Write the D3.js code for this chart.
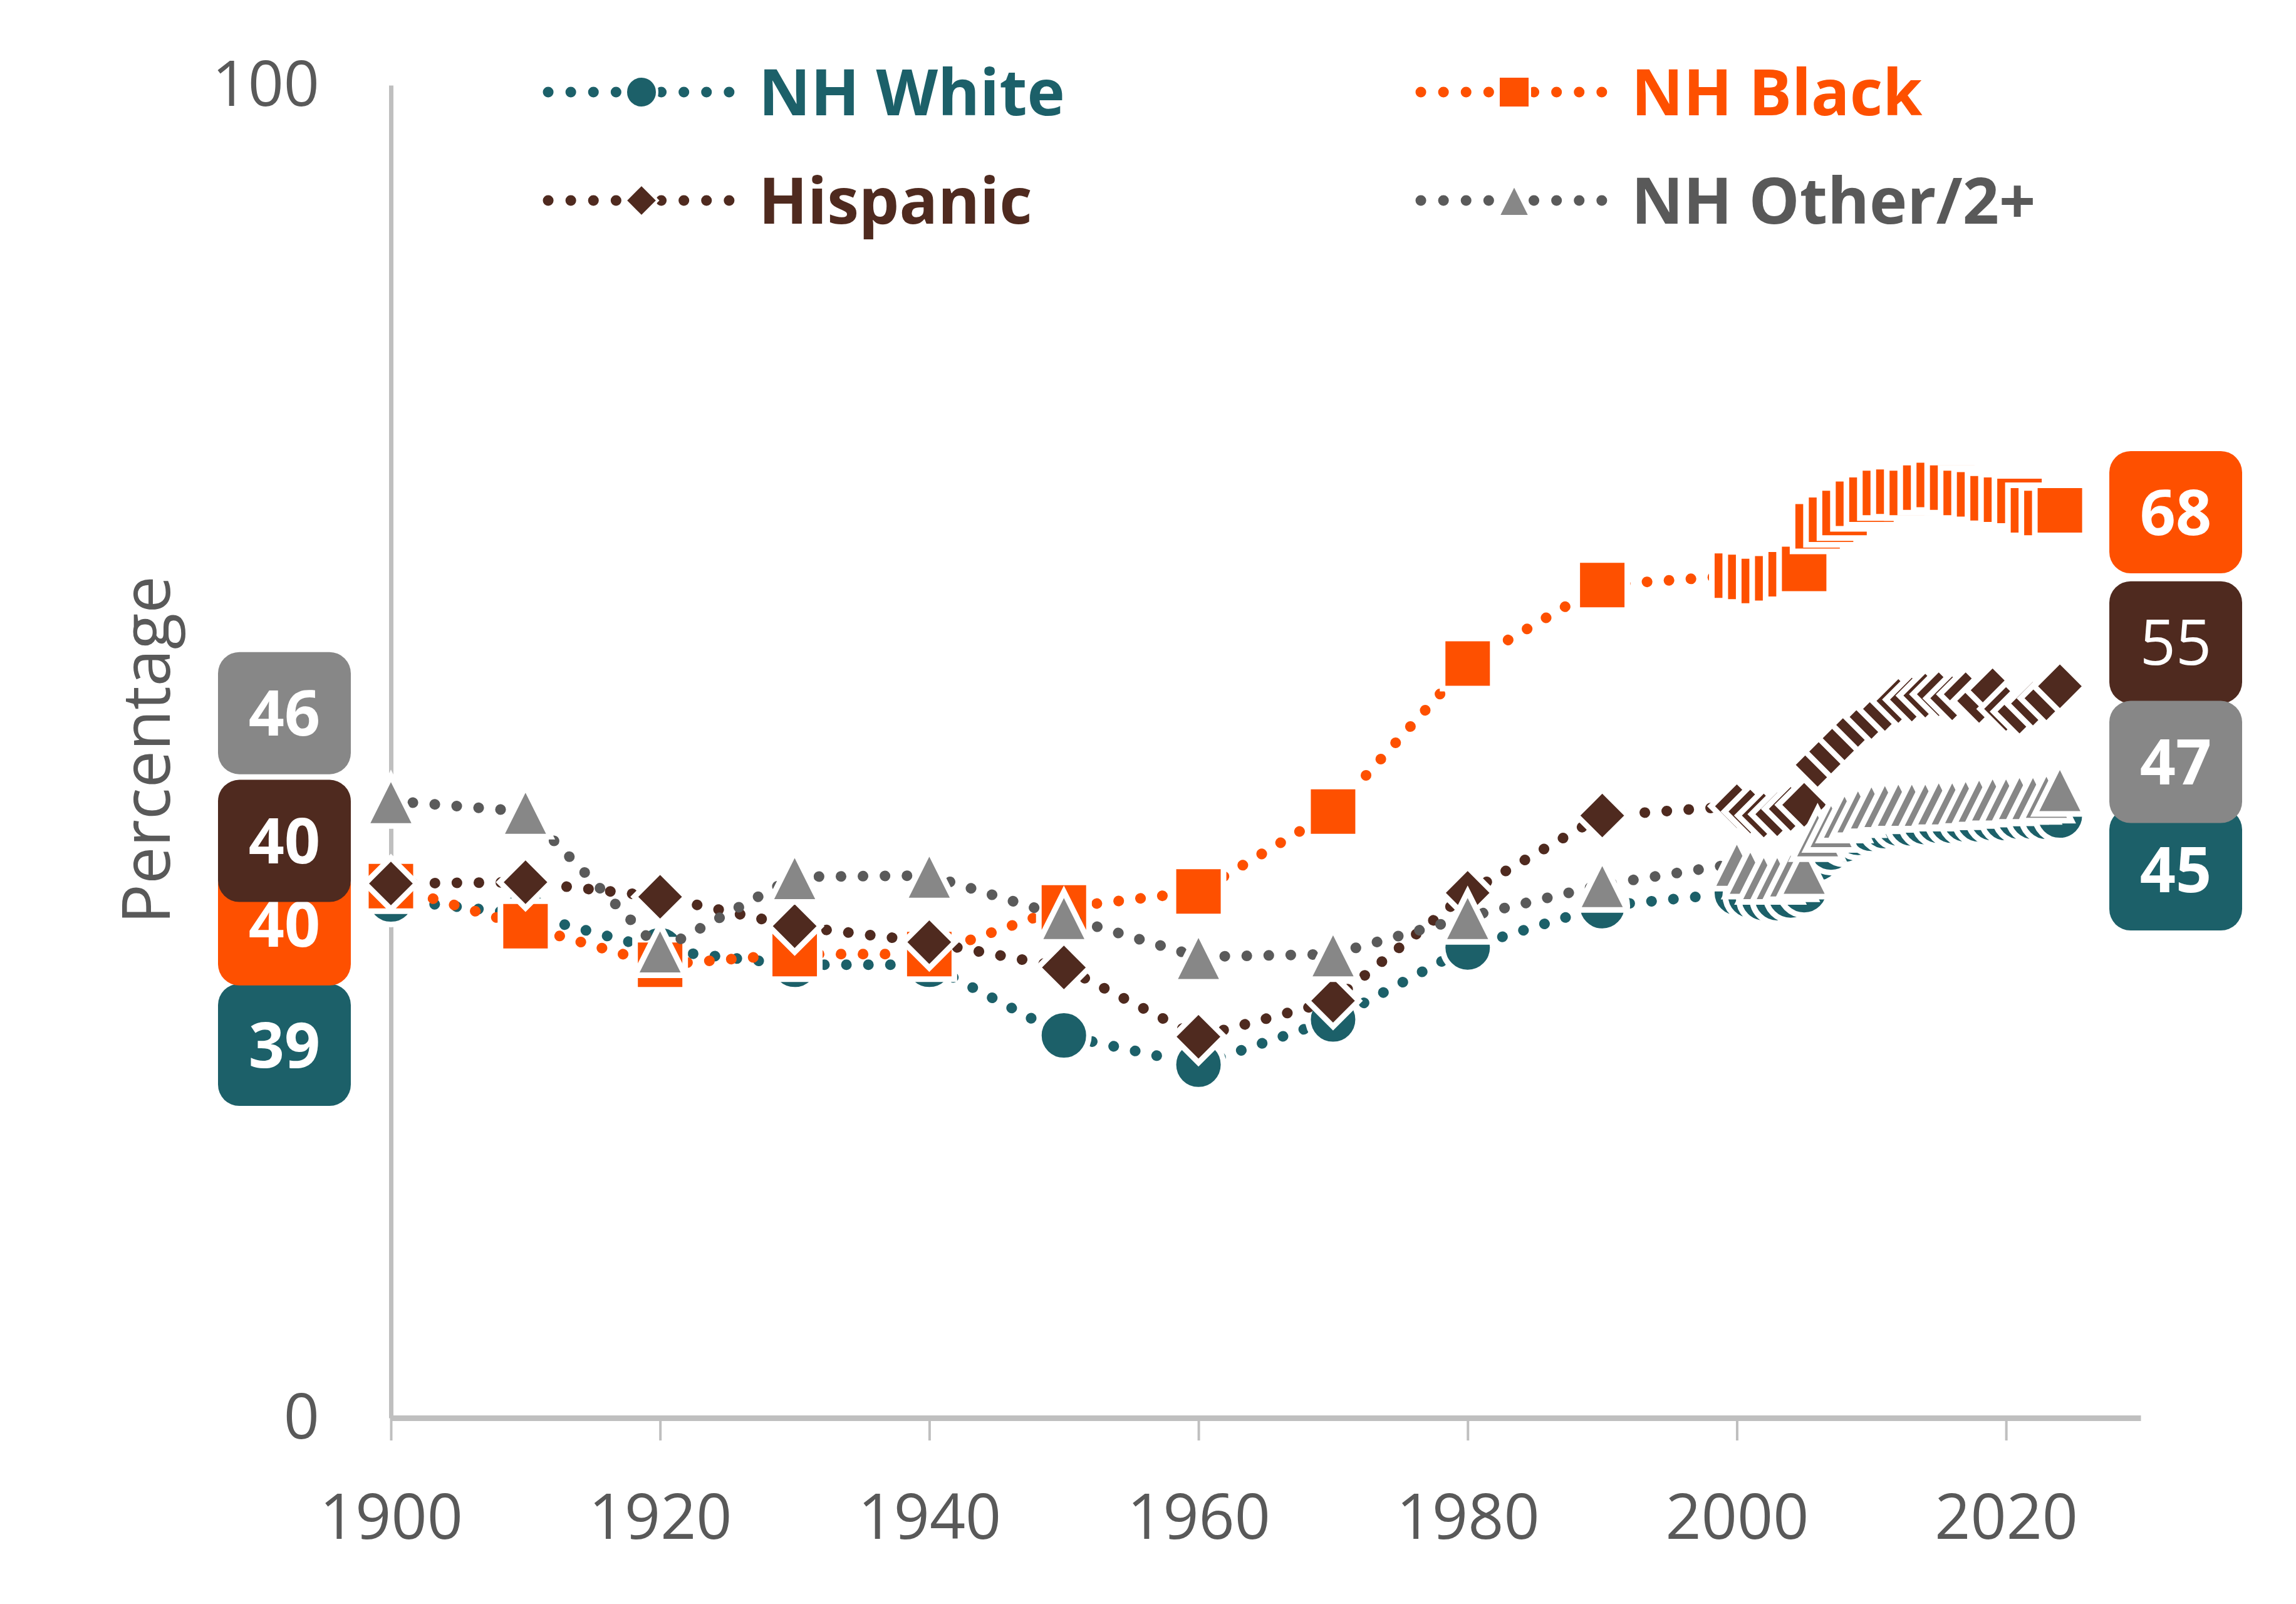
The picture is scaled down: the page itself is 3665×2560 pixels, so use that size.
<!DOCTYPE html>
<html>
<head>
<meta charset="utf-8">
<script src="https://cdnjs.cloudflare.com/ajax/libs/d3/7.8.5/d3.min.js"></script>
<style>
  body { margin: 0; background: #fff; }
  svg text { font-family: "Open Sans", "Noto Sans", sans-serif; }
</style>
</head>
<body>
<div id="chart"></div>
<script>
// --- data ---
var years = [1900, 1910, 1920, 1930, 1940, 1950, 1960, 1970, 1980, 1990,
             2000, 2001, 2002, 2003, 2004, 2005, 2006, 2007, 2008, 2009,
             2010, 2011, 2012, 2013, 2014, 2015, 2016, 2017, 2018, 2019,
             2020, 2021, 2022, 2023, 2024];

var nhWhite = [38.9, 37.8, 35.1, 34.0, 34.0, 28.7, 26.5, 29.9, 35.3, 38.4,
               39.4, 39.2, 39.0, 39.0, 39.2, 39.6, 42.0, 42.8, 43.4, 43.9,
               44.2, 44.4, 44.6, 44.6, 44.7, 44.8, 44.8, 44.9, 44.9, 45.0,
               45.0, 45.1, 45.1, 45.1, 45.2];

var nhBlack = [39.9, 36.9, 34.0, 34.8, 34.8, 38.3, 39.5, 45.5, 56.6, 62.5,
               63.2, 63.1, 62.8, 63.0, 63.3, 63.7, 66.9, 67.4, 67.9, 68.6,
               68.9, 69.4, 69.5, 69.4, 69.8, 70.0, 69.8, 69.4, 69.3, 69.0,
               68.9, 68.8, 68.1, 67.9, 68.1];

var hispanic = [40.1, 40.2, 39.1, 36.9, 35.7, 33.8, 28.6, 31.3, 39.4, 45.2,
                45.9, 45.5, 45.2, 45.3, 45.7, 46.0, 49.0, 50.0, 51.0, 52.0,
                52.6, 53.2, 53.8, 53.9, 54.2, 54.3, 54.0, 54.3, 53.8, 54.6,
                53.2, 53.0, 53.6, 54.0, 54.9];

var nhOther = [46.3, 45.5, 35.1, 40.6, 40.7, 37.6, 34.6, 34.8, 37.6, 40.0,
               41.6, 41.0, 40.6, 40.6, 40.8, 41.0, 43.8, 44.5, 45.2, 45.6,
               45.9, 46.0, 46.1, 46.1, 46.1, 46.2, 46.2, 46.3, 46.4, 46.5,
               46.5, 46.6, 46.6, 46.7, 47.2];

var seriesNames = ["NH White", "NH Black", "Hispanic", "NH Other/2+"];
var xTickValues = [1900, 1920, 1940, 1960, 1980, 2000, 2020];
var yTickValues = [0, 100];
var yTitle = "Percentage";

// --- look ---
var W = 3665, H = 2560;
var colors = { "NH White": "#1c6069", "NH Black": "#fe5000", "Hispanic": "#4f2a1f", "NH Other/2+": "#878787" };
var lineColors = { "NH White": "#1c6069", "NH Black": "#fe5000", "Hispanic": "#4f2a1f", "NH Other/2+": "#5a5a5a" };
var legendTextColors = { "NH White": "#1c6069", "NH Black": "#fe5000", "Hispanic": "#4f2a1f", "NH Other/2+": "#595959" };
var shapes = { "NH White": "circle", "NH Black": "square", "Hispanic": "diamond", "NH Other/2+": "triangle" };
// end label nudges (px) so the boxes do not sit on each other
var leftNudge = { "NH White": 232, "NH Black": 61, "Hispanic": -68, "NH Other/2+": -140 };
var rightNudge = { "NH White": 86, "NH Black": 3, "Hispanic": -70, "NH Other/2+": -43 };
// the original has the right Hispanic label in regular weight
var rightWeight = { "NH White": 700, "NH Black": 700, "Hispanic": 400, "NH Other/2+": 700 };

var series = [
  { name: "NH White", values: nhWhite },
  { name: "NH Black", values: nhBlack },
  { name: "Hispanic", values: hispanic },
  { name: "NH Other/2+", values: nhOther }
];

var x = d3.scaleLinear().domain([1900, 2030]).range([624, 3417]);
var y = d3.scaleLinear().domain([0, 100]).range([2263, 136]);

var svg = d3.select("#chart").append("svg")
  .attr("width", W).attr("height", H)
  .style("background", "#fff");

function markerPath(shape, s) {
  // s = half size
  if (shape === "circle") {
    return "M" + (-s) + ",0A" + s + "," + s + " 0 1,0 " + s + ",0A" + s + "," + s + " 0 1,0 " + (-s) + ",0Z";
  }
  if (shape === "square") {
    return "M" + (-s) + "," + (-s) + "H" + s + "V" + s + "H" + (-s) + "Z";
  }
  if (shape === "diamond") {
    var d = s * 1.03;
    return "M0," + (-d) + "L" + d + ",0L0," + d + "L" + (-d) + ",0Z";
  }
  // triangle, width == height, centred on its box
  return "M0," + (-s) + "L" + s + "," + s + "L" + (-s) + "," + s + "Z";
}

// axes
var xAxis = d3.axisBottom(x)
  .tickValues(xTickValues)
  .tickFormat(d3.format("d"))
  .tickSize(36)
  .tickSizeOuter(0)
  .tickPadding(86);

var gx = svg.append("g")
  .attr("transform", "translate(0," + y(0) + ")")
  .call(xAxis);
gx.select(".domain").attr("stroke", "#bfbfbf").attr("stroke-width", 9);
gx.selectAll(".tick line").attr("stroke", "#bfbfbf").attr("stroke-width", 4);
gx.selectAll(".tick text")
  .attr("fill", "#595959")
  .style("font-size", "100px")
  .style("font-family", "'Open Sans', sans-serif");

var yAxis = d3.axisLeft(y)
  .tickValues(yTickValues)
  .tickSize(0)
  .tickSizeOuter(0)
  .tickPadding(114);

var gy = svg.append("g")
  .attr("transform", "translate(" + x(1900) + ",0)")
  .call(yAxis);
gy.select(".domain").attr("stroke", "#bfbfbf").attr("stroke-width", 7);
gy.selectAll(".tick text")
  .attr("fill", "#595959")
  .style("font-size", "100px")
  .style("font-family", "'Open Sans', sans-serif");

svg.append("text")
  .attr("transform", "translate(234," + 1197 + ") rotate(-90)")
  .attr("text-anchor", "middle")
  .attr("dy", "0.35em")
  .attr("fill", "#595959")
  .style("font-size", "106px")
  .text(yTitle);

// series: line then markers, one series at a time
var line = d3.line()
  .x(function(d) { return x(d.year); })
  .y(function(d) { return y(d.value); });

var markerHalf = 40;

series.forEach(function(s) {
  var pts = years.map(function(yr, i) { return { year: yr, value: s.values[i] }; });
  var g = svg.append("g").attr("class", "series");

  g.append("path")
    .datum(pts)
    .attr("d", line)
    .attr("fill", "none")
    .attr("stroke", lineColors[s.name])
    .attr("stroke-width", 17)
    .attr("stroke-linecap", "round")
    .attr("stroke-dasharray", "0.1 35");

  g.selectAll("path.mk")
    .data(pts)
    .enter()
    .append("path")
    .attr("class", "mk")
    .attr("transform", function(d) { return "translate(" + x(d.year) + "," + y(d.value) + ")"; })
    .attr("d", markerPath(shapes[s.name], markerHalf))
    .attr("fill", colors[s.name])
    .attr("stroke", "#fff")
    .attr("stroke-width", 9);
});

// end labels
var boxW = 212, boxH = 195;
series.forEach(function(s) {
  var first = s.values[0], last = s.values[s.values.length - 1];
  [
    { cx: 454, cy: y(first) + leftNudge[s.name], v: first, w: 700 },
    { cx: 3473, cy: y(last) + rightNudge[s.name], v: last, w: rightWeight[s.name] }
  ].forEach(function(l) {
    svg.append("rect")
      .attr("x", l.cx - boxW / 2).attr("y", l.cy - boxH / 2)
      .attr("width", boxW).attr("height", boxH)
      .attr("rx", 34).attr("ry", 34)
      .attr("fill", colors[s.name]);
    svg.append("text")
      .attr("x", l.cx).attr("y", l.cy)
      .attr("dy", "0.36em")
      .attr("text-anchor", "middle")
      .attr("fill", "#fff")
      .style("font-size", "100px")
      .style("font-weight", l.w)
      .text(d3.format(".0f")(l.v));
  });
});

// legend
var legCols = [875, 2268], legRows = [147, 320];
seriesNames.forEach(function(name, i) {
  var lx = legCols[i % 2], ly = legRows[Math.floor(i / 2)];
  var g = svg.append("g").attr("transform", "translate(" + lx + "," + ly + ")");
  g.append("line")
    .attr("x1", 0).attr("x2", 290).attr("y1", 0).attr("y2", 0)
    .attr("stroke", lineColors[name])
    .attr("stroke-width", 17)
    .attr("stroke-linecap", "round")
    .attr("stroke-dasharray", "0.1 36");
  g.append("path")
    .attr("transform", "translate(149,0)")
    .attr("d", markerPath(shapes[name], 25))
    .attr("fill", colors[name])
    .attr("stroke", "#fff")
    .attr("stroke-width", 4);
  g.append("text")
    .attr("x", 336).attr("y", 0)
    .attr("dy", "0.36em")
    .attr("fill", legendTextColors[name])
    .style("font-size", "102px")
    .style("font-weight", 700)
    .text(name);
});
</script>
</body>
</html>
